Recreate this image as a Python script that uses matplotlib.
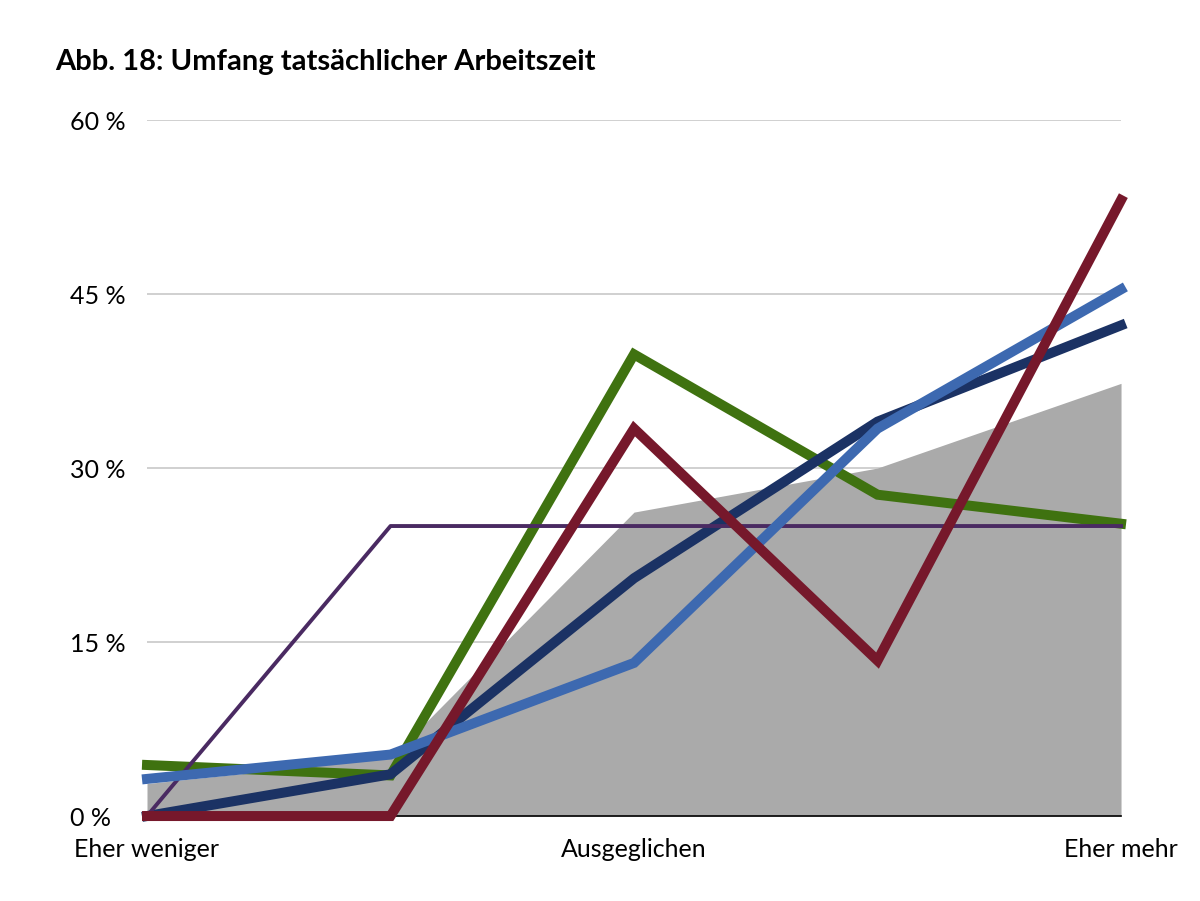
import matplotlib
matplotlib.use("Agg")
import matplotlib.pyplot as plt

plt.rcParams["font.family"] = ["Lato", "DejaVu Sans"]

positions = [0, 1, 2, 3, 4]
tick_positions = [0, 2, 4]
tick_labels = ["Eher weniger", "Ausgeglichen", "Eher mehr"]
y_ticks = [0, 15, 30, 45, 60]

total_area = [2.8, 5.0, 26.2, 30.0, 37.3]
green = [4.4, 3.5, 39.8, 27.7, 25.2]
red = [0.0, 0.0, 33.4, 13.4, 53.1]
navy = [0.0, 3.6, 20.5, 34.0, 42.3]
light_blue = [3.2, 5.3, 13.2, 33.4, 45.4]
purple = [0.0, 25.0, 25.0, 25.0, 25.0]

fig = plt.figure(figsize=(12, 9.01), dpi=100)
ax = fig.add_axes([0.1225, 0.0943, 0.8117, 0.7725])

ax.fill_between(positions, 0, total_area, color="#aaaaaa", linewidth=0, zorder=1)

ax.plot(positions, green, color="#3f7210", lw=7.2, solid_joinstyle="miter", zorder=3, clip_on=False)
ax.plot(positions, navy, color="#1b3264", lw=7.2, solid_joinstyle="miter", zorder=4, clip_on=False)
ax.plot(positions, purple, color="#4a2a62", lw=2.8, zorder=5, clip_on=False)
ax.plot(positions, light_blue, color="#3d69b0", lw=7.2, solid_joinstyle="miter", zorder=6, clip_on=False)
ax.plot(positions, red, color="#76182b", lw=7.2, solid_joinstyle="miter", zorder=7, clip_on=False)

ax.set_xlim(0, 4)
ax.set_ylim(0, 60)
ax.set_yticks(y_ticks)
ax.set_yticklabels([f"{v} %" for v in y_ticks], fontsize=18)
ax.set_xticks(tick_positions)
ax.set_xticklabels(tick_labels, fontsize=18)
ax.tick_params(axis="both", length=0)
ax.tick_params(axis="x", pad=16)
for lbl in ax.get_yticklabels():
    lbl.set_horizontalalignment("left")
    lbl.set_x(-0.079)
ax.yaxis.set_tick_params(pad=0)

ax.grid(axis="y", color="#c8c8c8", lw=1.2, zorder=0)
ax.set_axisbelow(True)
for side in ["left", "right", "top"]:
    ax.spines[side].set_visible(False)
ax.spines["bottom"].set_color("#000000")
ax.spines["bottom"].set_linewidth(1.2)
ax.spines["bottom"].set_zorder(2)

fig.text(0.046, 0.931, "Abb. 18: Umfang tatsächlicher Arbeitszeit",
         fontsize=21, fontweight="bold", ha="left", va="center")

fig.savefig("out.png", dpi=100)
